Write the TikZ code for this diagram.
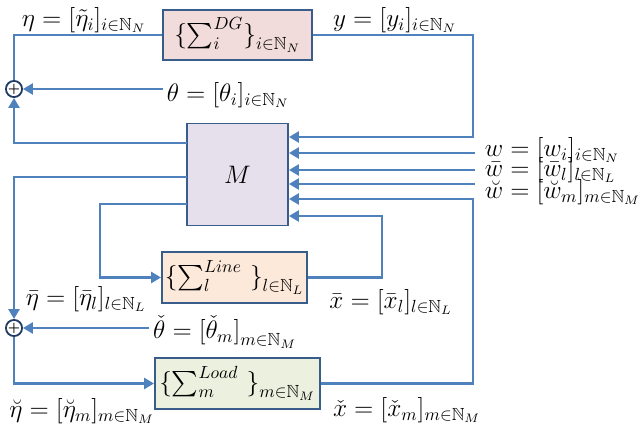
\documentclass[tikz,border=0pt]{standalone}
\usepackage{amssymb}
\usetikzlibrary{arrows.meta, calc, positioning}
\definecolor{bordeCaja}{HTML}{385D8A}
\definecolor{lineaAzul}{HTML}{4F81BD}
\definecolor{fondoDG}{HTML}{F2DCDB}
\definecolor{fondoM}{HTML}{E6E0EC}
\definecolor{fondoLinea}{HTML}{FDE9D9}
\definecolor{fondoCarga}{HTML}{EBF1DE}
\definecolor{bordeSuma}{HTML}{1F3A64}

\begin{document}
\begin{tikzpicture}[x=0.2mm, y=-0.2mm,
  % Estilos de bloques
  caja/.style={
    rectangle, draw=bordeCaja, line width=1.1pt,
    inner sep=0pt, font=\Large
  },
  cajaDG/.style={caja, fill=fondoDG,
    minimum width=29.8mm, minimum height=10mm},
  cajaM/.style={caja, fill=fondoM,
    minimum width=20.2mm, minimum height=20.4mm},
  cajaLinea/.style={caja, fill=fondoLinea,
    minimum width=29mm, minimum height=10.2mm},
  cajaCarga/.style={caja, fill=fondoCarga,
    minimum width=33mm, minimum height=10.2mm},
  sumador/.style={
    circle, draw=bordeSuma, fill=white, line width=1pt,
    minimum size=2.8mm, inner sep=0pt, font=\scriptsize\bfseries
  },
  % Estilo de flechas
  linea/.style={line width=1.7pt, draw=lineaAzul},
  flecha/.style={linea, -{Triangle[length=2mm, width=2.2mm]}},
  etiq/.style={font=\Large, inner sep=2pt}
]
\useasboundingbox (0,0) rectangle (641,435);

% --- Bloques ---
\node[cajaDG]    (dg)    at (237.5, 35)  {$\Bigl\{\sum_i^{DG}\Bigr\}_{i\in\mathbb{N}_N}$};
\node[cajaM]     (m)     at (237.5,174.5) {$M$};
\node[cajaLinea] (lin)   at (234.5,277.5) {$\Bigl\{\sum_l^{Line}\ \Bigr\}_{l\in\mathbb{N}_L}$};
\node[cajaCarga] (carga) at (237.5,383.5) {$\Bigl\{\sum_m^{Load}\ \Bigr\}_{m\in\mathbb{N}_M}$};

% --- Sumadores ---
\node[sumador] (s1) at (14, 89) {+};
\node[sumador] (s2) at (14,328) {+};

% --- Etiquetas ---
\node[etiq] (eta)  at (84, 20)  {$\eta=[\tilde\eta_i]_{i\in\mathbb{N}_N}$};
\node[etiq] (yout) at (395,20)  {$y=[y_i]_{i\in\mathbb{N}_N}$};
\node[etiq] (theta) at (228,95) {$\theta=[\theta_i]_{i\in\mathbb{N}_N}$};
\node[etiq, anchor=west] (w)  at (481,150) {$w=[w_i]_{i\in\mathbb{N}_N}$};
\node[etiq, anchor=west] (wb) at (481,170) {$\bar w=[\bar w_l]_{l\in\mathbb{N}_L}$};
\node[etiq, anchor=west] (wc) at (481,192) {$\breve w=[\breve w_m]_{m\in\mathbb{N}_M}$};
\node[etiq] (etab) at (86,299)  {$\bar\eta=[\bar\eta_l]_{l\in\mathbb{N}_L}$};
\node[etiq] (xb)   at (391,302) {$\bar x=[\bar x_l]_{l\in\mathbb{N}_L}$};
\node[etiq] (thc)  at (225,332) {$\check\theta=\bigl[\check\theta_m\bigr]_{m\in\mathbb{N}_M}$};
\node[etiq] (etac) at (82,411)  {$\breve\eta=[\breve\eta_m]_{m\in\mathbb{N}_M}$};
\node[etiq] (xc)   at (407,410) {$\check x=[\check x_m]_{m\in\mathbb{N}_M}$};

% --- Puntos de paso ---
\coordinate (busDG)    at (473,137);
\coordinate (busCarga) at (473,199);
\coordinate (busLinea) at (382,216);
\coordinate (wIn)  at (475,153);
\coordinate (wbIn) at (475,170);
\coordinate (wcIn) at (475,184);
\coordinate (salA) at (187,143);
\coordinate (salB) at (187,177);
\coordinate (salC) at (187,204);
\coordinate (codoC) at (100,277.5);

% --- Lazo DG ---
\draw[linea]  (dg.west) -| (s1.north);
\draw[flecha] (dg.east) -| (busDG) -- (m.east |- busDG);
\draw[flecha] (s1.east -| theta.west) -- (s1.east);

% --- Entradas externas ---
\draw[flecha] (wIn)  -- (m.east |- wIn);
\draw[flecha] (wbIn) -- (m.east |- wbIn);
\draw[flecha] (wcIn) -- (m.east |- wcIn);

% --- Salidas de M ---
\draw[flecha] (salA) -| (s1.south);
\draw[flecha] (salB) -| (s2.north);
\draw[flecha] (salC) -| (codoC) -- (lin.west);

% --- Lazos Line y Load ---
\draw[flecha] (lin.east) -| (busLinea) -- (m.east |- busLinea);
\draw[flecha] (carga.east) -| (busCarga) -- (m.east |- busCarga);
\draw[flecha] (s2.east -| thc.west) -- (s2.east);
\draw[flecha] (s2.south) |- (carga.west);

\end{tikzpicture}
\end{document}
